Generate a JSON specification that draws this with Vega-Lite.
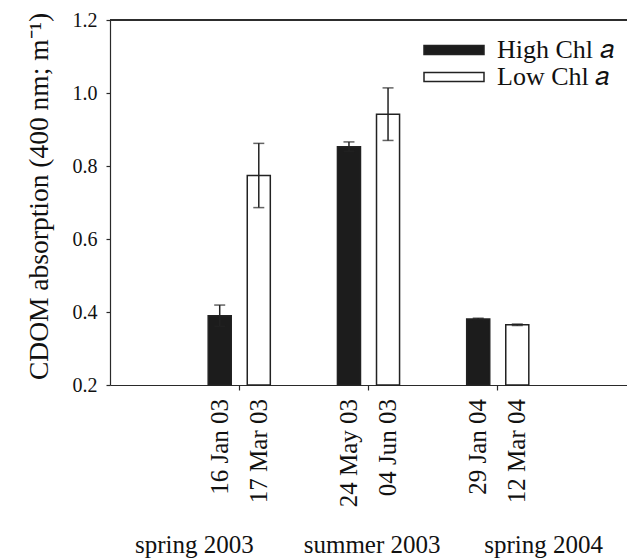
{
  "$schema": "https://vega.github.io/schema/vega-lite/v6.json",
  "autosize": {"type": "none"},
  "padding": {"left": 110, "top": 20, "right": 0, "bottom": 173},
  "width": 517,
  "height": 365,
  "config": {
    "font": "Liberation Serif",
    "view": {"stroke": null},
    "axis": {
      "domainColor": "#2a2a2a",
      "domainWidth": 1.2,
      "tickColor": "#2a2a2a",
      "tickWidth": 1.2,
      "labelColor": "#111111",
      "titleColor": "#111111",
      "labelFont": "Liberation Serif",
      "titleFont": "Liberation Serif",
      "titleFontWeight": "normal",
      "grid": false
    }
  },
  "data": {
    "values": [
      {"season": "spring 2003", "series": "High", "date": "16 Jan 03", "value": 0.390, "err": 0.029},
      {"season": "spring 2003", "series": "Low", "date": "17 Mar 03", "value": 0.774, "err": 0.088},
      {"season": "summer 2003", "series": "High", "date": "24 May 03", "value": 0.853, "err": 0.013},
      {"season": "summer 2003", "series": "Low", "date": "04 Jun 03", "value": 0.942, "err": 0.072},
      {"season": "spring 2004", "series": "High", "date": "29 Jan 04", "value": 0.381, "err": 0.002},
      {"season": "spring 2004", "series": "Low", "date": "12 Mar 04", "value": 0.365, "err": 0.002}
    ]
  },
  "layer": [
    {
      "mark": {"type": "bar", "stroke": "#222222", "strokeWidth": 1.5},
      "encoding": {
        "x": {
          "field": "season",
          "type": "nominal",
          "sort": ["spring 2003", "summer 2003", "spring 2004"],
          "scale": {"paddingInner": 0, "paddingOuter": 0.5},
          "axis": {
            "labels": false,
            "ticks": true,
            "tickSize": 5,
            "title": "spring 2003\u00a0\u00a0\u00a0\u00a0\u00a0\u00a0\u00a0\u00a0summer 2003\u00a0\u00a0\u00a0\u00a0\u00a0\u00a0\u00a0spring 2004\u00a0",
            "titleFont": "Liberation Serif",
            "titleFontSize": 25,
            "titlePadding": 142
          }
        },
        "xOffset": {
          "field": "series",
          "type": "nominal",
          "sort": ["High", "Low"],
          "scale": {"paddingInner": 0.41, "paddingOuter": 0.859}
        },
        "y": {
          "field": "value",
          "type": "quantitative",
          "scale": {"domain": [0.2, 1.2], "zero": false, "nice": false},
          "axis": {
            "values": [0.2, 0.4, 0.6, 0.8, 1.0, 1.2],
            "format": ".1f",
            "tickSize": 4,
            "labelFont": "Liberation Serif",
            "labelFontSize": 20,
            "labelPadding": 9,
            "title": "CDOM absorption (400 nm; m⁻¹)",
            "titleFont": "Liberation Serif",
            "titleFontSize": 27.5,
            "titlePadding": 19,
            "titleY": 176
          }
        },
        "y2": {"datum": 0.2},
        "fill": {
          "field": "series",
          "type": "nominal",
          "scale": {"domain": ["High", "Low"], "range": ["#1c1c1c", "#ffffff"]},
          "legend": {
            "title": null,
            "orient": "none",
            "legendX": 331,
            "legendY": 17,
            "padding": 0,
            "symbolType": "M-3,-0.45H3V0.45H-3Z",
            "symbolSize": 400,
            "symbolStrokeColor": "#222222",
            "symbolStrokeWidth": 1.5,
            "labelFontSize": 26,
            "labelFont": "Liberation Serif",
            "labelColor": "#111111",
            "labelOffset": 30,
            "rowPadding": 1,
            "labelExpr": "datum.label + ' Chl 𝑎'"
          }
        }
      }
    },
    {
      "mark": {
        "type": "errorbar",
        "ticks": {"size": 11, "color": "#222222", "thickness": 1.5},
        "rule": {"color": "#222222", "strokeWidth": 1.5}
      },
      "encoding": {
        "x": {"field": "season", "type": "nominal", "sort": ["spring 2003", "summer 2003", "spring 2004"]},
        "xOffset": {"field": "series", "type": "nominal", "sort": ["High", "Low"]},
        "y": {"field": "value", "type": "quantitative", "title": "CDOM absorption (400 nm; m⁻¹)"},
        "yError": {"field": "err"}
      }
    },
    {
      "mark": {"type": "rule", "color": "#2a2a2a", "strokeWidth": 1.2},
      "encoding": {"y": {"datum": 1.2}}
    },
    {
      "mark": {
        "type": "text",
        "angle": 270,
        "align": "right",
        "baseline": "middle",
        "dx": -14,
        "fontSize": 25,
        "font": "Liberation Serif",
        "color": "#111111"
      },
      "encoding": {
        "x": {"field": "season", "type": "nominal", "sort": ["spring 2003", "summer 2003", "spring 2004"]},
        "xOffset": {"field": "series", "type": "nominal", "sort": ["High", "Low"]},
        "y": {"datum": 0.2},
        "text": {"field": "date"}
      }
    }
  ]
}
